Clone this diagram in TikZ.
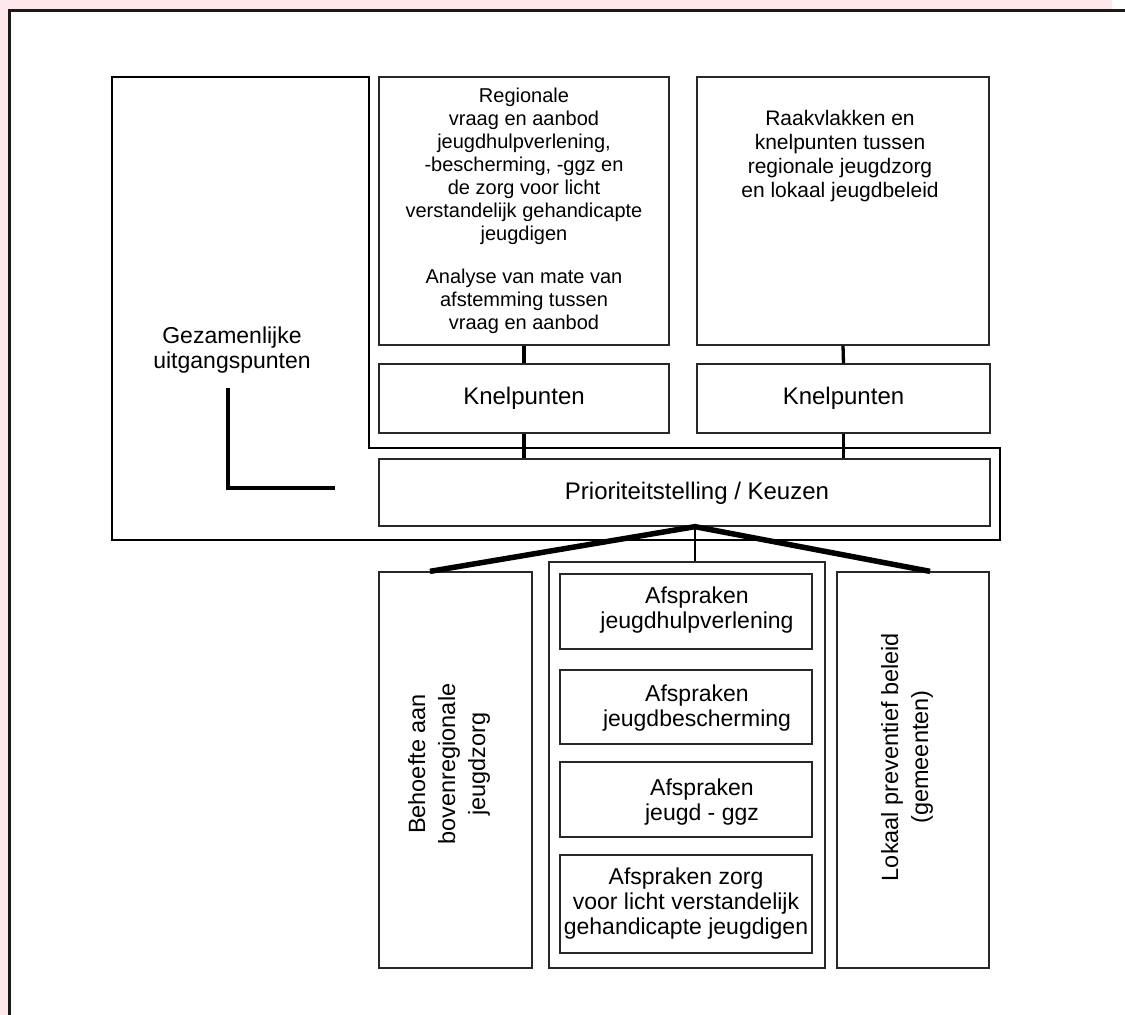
\documentclass[tikz,border=0pt]{standalone}
\usepackage{fontspec}
\setmainfont{Liberation Sans}
\definecolor{bgpink}{RGB}{255,232,236}
\definecolor{boxline}{RGB}{40,40,40}
\begin{document}
\begin{tikzpicture}[x=1pt,y=-1pt,
  box/.style={draw=boxline, line width=1.3pt, inner sep=0pt, anchor=center},
  txt/.style={inner sep=0pt, align=center, anchor=center},
  fsmall/.style={font=\fontsize{20}{23}\selectfont},
  fmid/.style={font=\fontsize{23}{25}\selectfont},
  fbig/.style={font=\fontsize{24}{28}\selectfont},
  frot/.style={font=\fontsize{23.5}{30}\selectfont, rotate=90},
  conn/.style={draw=black, line width=3.3pt},
  heavy/.style={draw=black, line width=5.5pt},
  thin/.style={draw=black, line width=1.8pt}]
\useasboundingbox (0,0) rectangle (1125,1015);
% background and frame
\fill[bgpink] (0,0) rectangle (1112,1015);
\fill[white] (9.5,10.3) rectangle (1125,1015);
\draw[line width=2.6pt, draw=black!90] (8.2,10.3) -- (1125,10.3);
\draw[line width=2.6pt, draw=black!90] (9.5,10.3) -- (9.5,1015);
% outer polygon (Gezamenlijke uitgangspunten)
\draw[line width=1.5pt] (112,77) -- (369,77) -- (369,448) -- (1000,448) -- (1000,540) -- (112,540) -- cycle;
\node[txt, fmid] (gez) at (232,350.5) {Gezamenlijke\\uitgangspunten};
\coordinate (Ltop) at (228,388);
\coordinate (Lend) at (335,488);
\draw[conn] (Ltop) |- (Lend);
% top boxes
\node[box, minimum width=290pt, minimum height=268pt, fsmall, align=center] (reg) at (524,211)
  {Regionale\\vraag en aanbod\\jeugdhulpverlening,\\-bescherming, -ggz en\\de zorg voor licht\\verstandelijk gehandicapte\\jeugdigen\\[20pt]Analyse van mate van\\afstemming tussen\\vraag en aanbod};
\node[box, minimum width=292pt, minimum height=268pt] (rk) at (843,211) {};
\node[txt, font=\fontsize{21}{24}\selectfont] (rkt) at (840,156)
  {Raakvlakken en\\knelpunten tussen\\regionale jeugdzorg\\en lokaal jeugdbeleid};
\node[box, minimum width=290pt, minimum height=69pt, fbig] (kn1) at (524,398.5) {Knelpunten};
\node[box, minimum width=293pt, minimum height=69pt, fbig] (kn2) at (843.5,398.5) {Knelpunten};
\node[box, minimum width=611pt, minimum height=67pt] (prio) at (684.5,492.5) {};
\node[txt, fbig] (priot) at (697,493) {Prioriteitstelling / Keuzen};
\draw[conn] (reg.south) -- (kn1.north);
\draw[conn] (kn1.south) -- (kn1.south |- prio.north);
\draw[conn] (rk.south) -- (kn2.north);
\draw[conn] (kn2.south) -- (kn2.south |- prio.north);
% bottom boxes
\node[box, minimum width=153pt, minimum height=396pt] (beh) at (455.5,770) {};
\node[txt, frot] (beht) at (449,764) {Behoefte aan\\bovenregionale\\jeugdzorg};
\node[box, minimum width=152pt, minimum height=396pt] (lok) at (913,770) {};
\node[txt, frot] (lokt) at (907,757) {Lokaal preventief beleid\\(gemeenten)};
\node[box, minimum width=276pt, minimum height=406pt] (mid) at (687,765) {};
\node[box, minimum width=252pt, minimum height=75pt] (a1) at (686,611.5) {};
\node[txt, fmid] (a1t) at (697,610.5) {Afspraken\\jeugdhulpverlening};
\node[box, minimum width=252pt, minimum height=74pt] (a2) at (686,707) {};
\node[txt, fmid] (a2t) at (697,708.5) {Afspraken\\jeugdbescherming};
\node[box, minimum width=252pt, minimum height=75pt] (a3) at (686,799.5) {};
\node[txt, fmid] (a3t) at (702,802) {Afspraken\\jeugd - ggz};
\node[box, minimum width=252pt, minimum height=98pt, fmid, align=center] (a4) at (686,904)
  {Afspraken zorg\\voor licht verstandelijk\\gehandicapte jeugdigen};
% connectors from Prioriteitstelling
\coordinate (pj) at ([xshift=10.5pt]prio.south);
\coordinate (behT) at ([xshift=-25.5pt]beh.north);
\coordinate (lokT) at ([xshift=17pt]lok.north);
\draw[heavy] (behT) -- (pj) -- (lokT);
\draw[thin] (pj) -- (pj |- mid.north);
\end{tikzpicture}
\end{document}
